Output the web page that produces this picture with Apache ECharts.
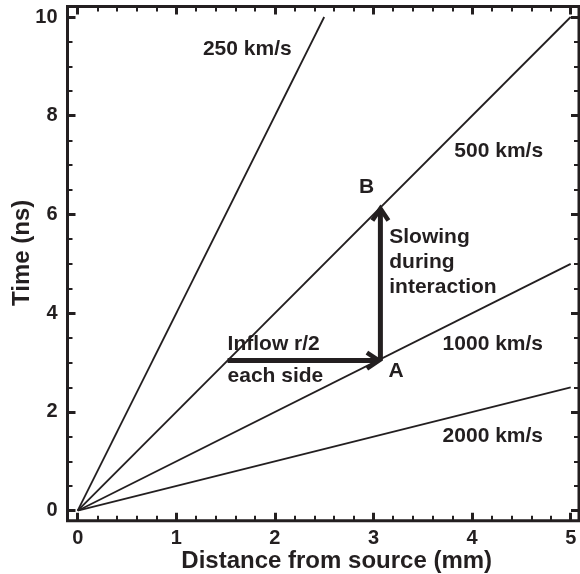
<!DOCTYPE html>
<html>
<head>
<meta charset="utf-8">
<script src="https://cdn.jsdelivr.net/npm/echarts@6/dist/echarts.min.js"></script>
<style>html,body{margin:0;padding:0;background:#fff}#c{width:580px;height:574px}</style>
</head>
<body>
<div id="c"></div>
<script>
// ---- data ----
var speedNames = ['250 km/s', '500 km/s', '1000 km/s', '2000 km/s'];
var lineEndX = [2.5, 5, 5, 5];          // mm
var lineEndY = [10, 10, 5, 2.5];        // ns
var xTickValues = [0, 1, 2, 3, 4, 5];
var yTickValues = [0, 2, 4, 6, 8, 10];
var arrowStartX = [1.52, 3.07];
var arrowStartY = [3.04, 3.04];
var arrowEndX = [3.07, 3.07];
var arrowEndY = [3.04, 6.15];
var noteText = ['250 km/s', '500 km/s', '1000 km/s', '2000 km/s', 'B', 'A', 'Inflow r/2', 'each side', 'Slowing\nduring\ninteraction'];
var noteX = [1.72, 4.27, 4.21, 4.21, 2.93, 3.23, 1.52, 1.52, 3.16];
var noteY = [9.35, 7.29, 3.38, 1.50, 6.56, 2.83, 3.38, 2.73, 5.04];
var noteAlign = ['center', 'center', 'center', 'center', 'center', 'center', 'left', 'left', 'left'];

var INK = '#231f20';
var FONT = '"Liberation Sans", Arial, Helvetica, sans-serif';

var chart = echarts.init(document.getElementById('c'), null, {renderer: 'canvas'});

function tickAxis(extra) {
  var base = {
    gridIndex: 1,
    type: 'value',
    axisLine: {show: false, onZero: false},
    splitLine: {show: false},
    axisTick: {show: true, inside: true, length: 8, lineStyle: {color: INK, width: 3}},
    minorTick: {show: true, length: 5, lineStyle: {color: INK, width: 2}},
    axisLabel: {show: false}
  };
  for (var k in extra) base[k] = extra[k];
  return base;
}

var lineSeries = speedNames.map(function (n, i) {
  return {
    type: 'line', name: n, xAxisIndex: 0, yAxisIndex: 0,
    data: [[0, 0], [lineEndX[i], lineEndY[i]]],
    symbol: 'none', lineStyle: {color: INK, width: 1.8}, silent: true, z: 3
  };
});

var arrowData = arrowStartX.map(function (x, i) {
  return [x, arrowStartY[i], arrowEndX[i], arrowEndY[i]];
});

var noteData = noteX.map(function (x, i) { return [x, noteY[i]]; });

var option = {
  backgroundColor: '#fff',
  animation: false,
  grid: [
    {left: 67.5, top: 6.5, right: 1, bottom: 53.3, show: true, borderColor: INK, borderWidth: 3,
     backgroundColor: 'transparent', outerBoundsMode: 'none', containLabel: false},
    {left: 77.7, top: 17, right: 9.3, bottom: 63.3, outerBoundsMode: 'none', containLabel: false}
  ],
  xAxis: [
    tickAxis({position: 'bottom', offset: 10, min: 0, max: 5, interval: 1,
      minorTick: {show: true, splitNumber: 5, length: 5, lineStyle: {color: INK, width: 2}},
      axisLabel: {show: true, color: INK, fontFamily: FONT, fontWeight: 'bold', fontSize: 20, margin: 8,
        formatter: function (v) { return xTickValues.indexOf(v) >= 0 ? String(v) : ''; }},
      name: 'Distance from source (mm)', nameLocation: 'middle', nameGap: 29, nameMoveOverlap: false,
      nameTextStyle: {color: INK, fontFamily: FONT, fontWeight: 'bold', fontSize: 24, padding: [0, 0, 0, 25]}}),
    tickAxis({position: 'top', offset: 10.5, min: 0, max: 5, interval: 1,
      minorTick: {show: true, splitNumber: 5, length: 5, lineStyle: {color: INK, width: 2}}}),
    {gridIndex: 0, type: 'value', min: 0, max: 1, show: false}
  ],
  yAxis: [
    tickAxis({position: 'left', offset: 10.2, min: 0, max: 10, interval: 2,
      minorTick: {show: true, splitNumber: 4, length: 5, lineStyle: {color: INK, width: 2}},
      axisLabel: {show: true, color: INK, fontFamily: FONT, fontWeight: 'bold', fontSize: 20, margin: 10,
        formatter: function (v) { return yTickValues.indexOf(v) >= 0 ? String(v) : ''; }},
      name: 'Time (ns)', nameLocation: 'middle', nameGap: 33, nameMoveOverlap: false,
      nameTextStyle: {color: INK, fontFamily: FONT, fontWeight: 'bold', fontSize: 24, padding: [0, 0, 0, 22]}}),
    tickAxis({position: 'right', offset: 8.3, min: 0, max: 10, interval: 2,
      minorTick: {show: true, splitNumber: 4, length: 5, lineStyle: {color: INK, width: 2}}}),
    {gridIndex: 0, type: 'value', min: 0, max: 1, show: false}
  ],
  series: lineSeries.concat([
    {
      type: 'custom', name: 'arrows', xAxisIndex: 0, yAxisIndex: 0, silent: true, z: 5,
      data: arrowData,
      encode: {x: [0, 2], y: [1, 3]},
      renderItem: function (params, api) {
        var p1 = api.coord([api.value(0), api.value(1)]);
        var p2 = api.coord([api.value(2), api.value(3)]);
        var dx = p2[0] - p1[0], dy = p2[1] - p1[1];
        var len = Math.sqrt(dx * dx + dy * dy);
        var ux = dx / len, uy = dy / len;
        var px = -uy, py = ux;
        var depth = 12, half = 8;
        var tip = [p2[0] - ux * 1.5, p2[1] - uy * 1.5];
        return {
          type: 'group',
          children: [
            {type: 'line', shape: {x1: p1[0], y1: p1[1], x2: tip[0] - ux * 2, y2: tip[1] - uy * 2},
             style: {stroke: INK, lineWidth: 5, lineCap: 'butt'}},
            {type: 'polyline', shape: {points: [
                [tip[0] - ux * depth + px * half, tip[1] - uy * depth + py * half],
                tip,
                [tip[0] - ux * depth - px * half, tip[1] - uy * depth - py * half]]},
             style: {stroke: INK, fill: 'none', lineWidth: 4.5, lineJoin: 'miter'}}
          ]
        };
      }
    },
    {
      type: 'custom', name: 'notes', xAxisIndex: 0, yAxisIndex: 0, silent: true, z: 6,
      data: noteData,
      encode: {x: 0, y: 1},
      renderItem: function (params, api) {
        var p = api.coord([api.value(0), api.value(1)]);
        var i = params.dataIndex;
        return {
          type: 'text', x: p[0], y: p[1],
          style: {text: noteText[i], fill: INK, fontFamily: FONT, fontWeight: 'bold', fontSize: 21,
            lineHeight: 25, align: noteAlign[i], verticalAlign: 'middle'}
        };
      }
    }
  ])
};
chart.setOption(option);
</script>
</body>
</html>
